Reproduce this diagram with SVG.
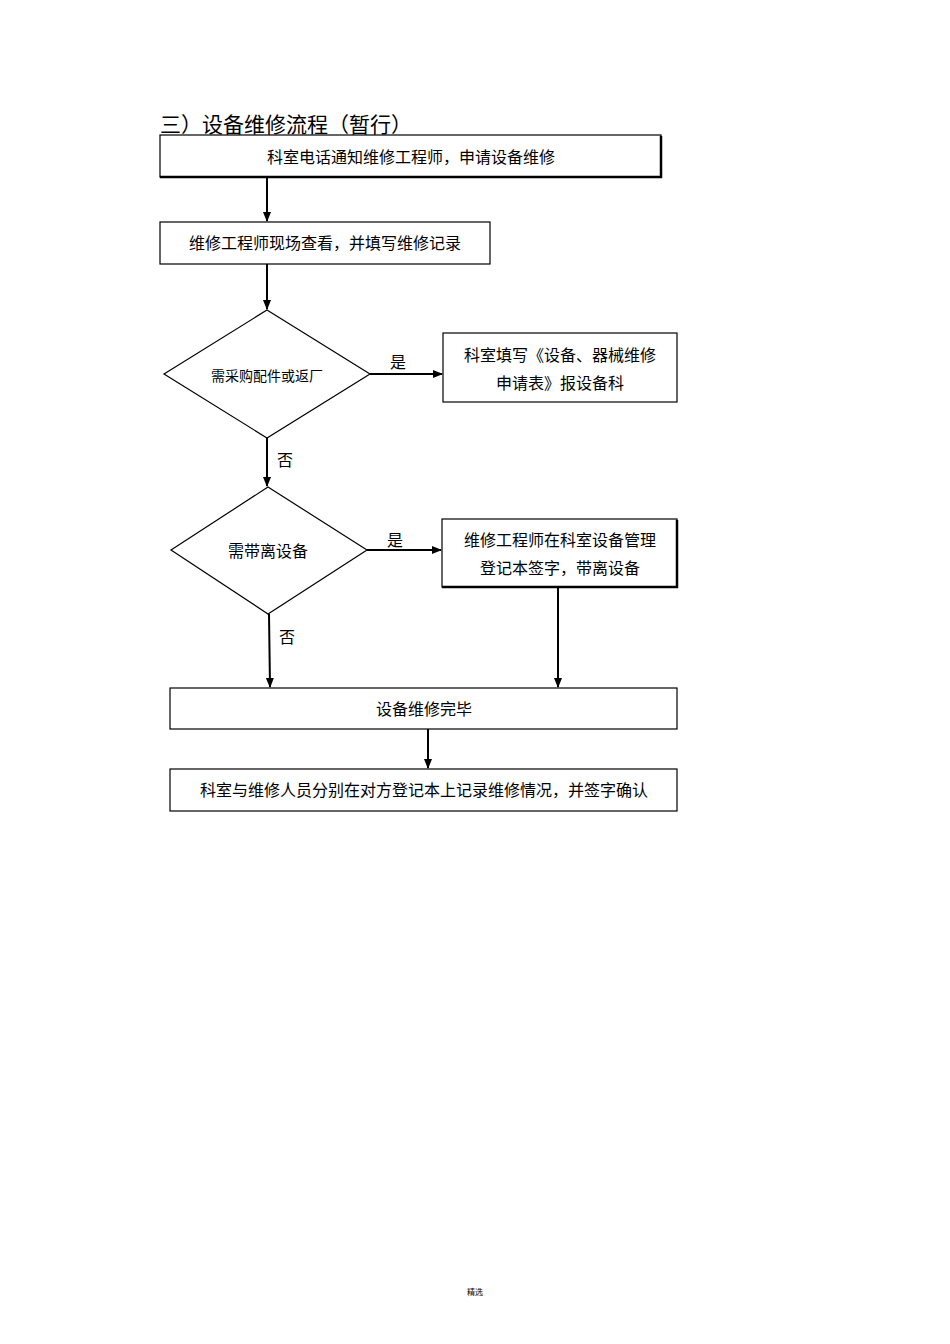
<svg xmlns="http://www.w3.org/2000/svg" width="950" height="1344" viewBox="0 0 950 1344">
<defs>
<marker id="ah" markerWidth="10" markerHeight="10" refX="9" refY="5" orient="auto" markerUnits="userSpaceOnUse"><path d="M0,1 L10,5 L0,9 Z" fill="#000"/></marker>
<style>
.b{fill:#fff;stroke:#000;stroke-width:1.2}
.t{font-family:"Liberation Serif","Noto Sans CJK SC",serif;font-size:16px;fill:#000;text-anchor:middle;dominant-baseline:central}
.c{stroke:#000;stroke-width:2;fill:none;marker-end:url(#ah)}
</style>
</defs>
<rect width="950" height="1344" fill="#fff"/>
<text x="160" y="125" style="font-family:'Liberation Serif','Noto Sans CJK SC',serif;font-size:21px;dominant-baseline:central">三）设备维修流程（暂行）</text>
<g id="n1"><rect class="b" x="160" y="135" width="501" height="42"/><path d="M661,136 V177 H160" stroke="#000" stroke-width="2.5" fill="none"/><text class="t" x="411" y="157">科室电话通知维修工程师，申请设备维修</text></g>
<g id="n2"><rect class="b" x="160" y="222" width="330" height="42"/><text class="t" x="325" y="243">维修工程师现场查看，并填写维修记录</text></g>
<g id="d1"><polygon class="b" points="267,310 370,374 267,438 164,374"/><text class="t" x="267" y="376" style="font-size:14px">需采购配件或返厂</text></g>
<g id="n3"><rect class="b" x="443" y="333" width="234" height="69"/><text class="t" x="560" y="355">科室填写《设备、器械维修</text><text class="t" x="560" y="383">申请表》报设备科</text></g>
<g id="d2"><polygon class="b" points="268,487 367,550 268,614 171,550"/><text class="t" x="268" y="551">需带离设备</text></g>
<g id="n4"><rect class="b" x="442" y="519" width="235" height="68"/><path d="M677,520 V587 H442" stroke="#000" stroke-width="2.5" fill="none"/><text class="t" x="560" y="540">维修工程师在科室设备管理</text><text class="t" x="560" y="568">登记本签字，带离设备</text></g>
<g id="n5"><rect class="b" x="170" y="688" width="507" height="41"/><text class="t" x="424" y="709">设备维修完毕</text></g>
<g id="n6"><rect class="b" x="170" y="769" width="507" height="42"/><text class="t" x="424" y="790">科室与维修人员分别在对方登记本上记录维修情况，并签字确认</text></g>
<g id="connectors">
<line class="c" x1="267" y1="178" x2="267" y2="221"/>
<line class="c" x1="267" y1="264" x2="267" y2="309"/>
<line class="c" x1="370" y1="374" x2="442" y2="374"/>
<line class="c" x1="267" y1="438" x2="267" y2="486"/>
<line class="c" x1="367" y1="550" x2="441" y2="550"/>
<line class="c" x1="558" y1="588" x2="558" y2="687"/>
<line class="c" x1="269" y1="614" x2="270" y2="687"/>
<line class="c" x1="428" y1="729" x2="428" y2="768"/>
<text class="t" x="398" y="362">是</text>
<text class="t" x="285" y="460">否</text>
<text class="t" x="395" y="540">是</text>
<text class="t" x="287" y="637">否</text>
</g>
<text x="475" y="1291" style="font-family:'Noto Sans CJK SC',sans-serif;font-size:8px;text-anchor:middle;dominant-baseline:central">精选</text>
</svg>
